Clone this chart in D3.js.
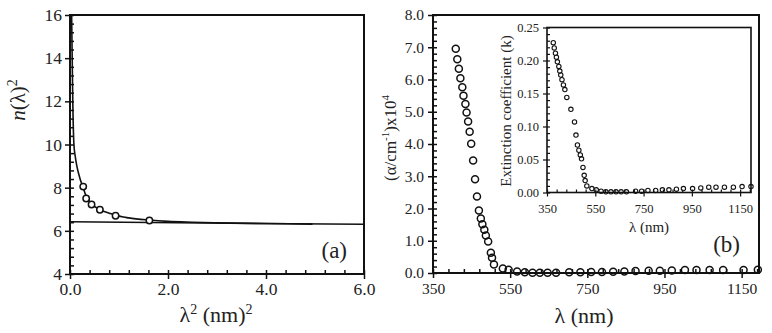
<!DOCTYPE html>
<html>
<head>
<meta charset="utf-8">
<script src="https://cdn.jsdelivr.net/npm/d3@7"></script>
<style>
  body { margin: 0; background: #fff; }
  svg { display: block; }
  text { font-family: 'Liberation Serif', serif; fill: #222; }
</style>
</head>
<body>
<svg id="chart" width="772" height="333"></svg>
<script>
// panel (a): n(lambda)^2 vs lambda^2
var pointsA_x = [0.27, 0.33, 0.44, 0.61, 0.93, 1.62]
var pointsA_y = [8.05, 7.5, 7.22, 6.98, 6.7, 6.48]
var fitA_x = [0.033, 0.045, 0.057, 0.08, 0.11, 0.14, 0.2, 0.26, 0.33, 0.44, 0.61, 0.8, 0.93, 1.2, 1.62, 2.0, 2.5, 3.0, 4.0, 4.95]
var fitA_y = [16, 14, 12, 10, 9.4, 9.0, 8.45, 8.05, 7.6, 7.25, 6.98, 6.82, 6.72, 6.6, 6.5, 6.44, 6.4, 6.37, 6.34, 6.31]
var lineA_x = [0, 6]
var lineA_y = [6.42, 6.3]
var ticksA_x = [0, 2, 4, 6]
var ticksA_y = [4, 6, 8, 10, 12, 14, 16]

// panel (b): absorption coefficient (x10^4 cm^-1) vs wavelength
var lambdaB = [409, 413, 417, 421, 426, 429, 434, 437, 441, 445, 449, 454, 459, 464, 469, 474, 478, 483, 487, 493,
               500, 503, 508, 531, 546, 568, 588, 608, 627, 647, 669, 703, 732, 760, 788, 817, 846, 875, 909, 938,
               969, 1003, 1033, 1067, 1102, 1155, 1192]
var alphaB = [6.95, 6.63, 6.33, 6.04, 5.76, 5.5, 5.24, 4.98, 4.7, 4.38, 4.01, 3.49, 2.91, 2.37, 1.94, 1.69, 1.51, 1.34, 1.16, 0.98,
              0.63, 0.47, 0.26, 0.14, 0.1, 0.05, 0.02, 0.01, 0.01, 0.01, 0.01, 0.02, 0.02, 0.03, 0.03, 0.04, 0.05, 0.06, 0.07, 0.07,
              0.08, 0.09, 0.09, 0.09, 0.09, 0.09, 0.1]
var ticksB_x = [350, 550, 750, 950, 1150]
var ticksB_y = [0, 1, 2, 3, 4, 5, 6, 7, 8]

// inset: extinction coefficient k vs wavelength
var lambdaK = [376, 380, 385, 389, 393, 399, 403, 407, 412, 418, 424, 432, 449, 464, 470, 476, 482, 488, 493, 499,
               504, 508, 515, 536, 554, 574, 594, 615, 636, 657, 679, 717, 742, 768, 800, 828, 855, 886, 915, 953,
               987, 1020, 1050, 1085, 1122, 1158, 1195]
var kValues = [0.227, 0.219, 0.211, 0.205, 0.198, 0.191, 0.184, 0.178, 0.171, 0.163, 0.156, 0.144, 0.126, 0.107, 0.087, 0.072, 0.064, 0.057, 0.051, 0.038,
               0.026, 0.018, 0.01, 0.006, 0.004, 0.002, 0.001, 0.001, 0.001, 0.001, 0.001, 0.002, 0.002, 0.003, 0.003, 0.004, 0.004, 0.005, 0.006, 0.006,
               0.007, 0.008, 0.008, 0.008, 0.008, 0.009, 0.009]
var ticksK_x = [350, 550, 750, 950, 1150]
var ticksK_y = [0, 0.05, 0.1, 0.15, 0.2, 0.25]

const svg = d3.select('#chart')

svg.append('rect').attr('width', 772).attr('height', 333).attr('fill', '#fff')

// helper: minor tick values between a and b with step s
function steps(a, b, s) {
  var out = []
  for (var i = 0; a + i * s <= b + 1e-9; i++) out.push(+(a + i * s).toFixed(6))
  return out
}

function drawAxes(g, x, y, opt) {
  var x0 = x.range()[0], x1 = x.range()[1], y0 = y.range()[0], y1 = y.range()[1]

  // minor ticks, inside
  g.append('g')
    .attr('transform', 'translate(0,' + y0 + ')')
    .call(d3.axisBottom(x).tickValues(opt.minorX).tickSize(-opt.minorLen).tickSizeOuter(0).tickFormat(''))
    .call(function(a) { a.select('.domain').remove() })
  g.append('g')
    .attr('transform', 'translate(' + x0 + ',0)')
    .call(d3.axisLeft(y).tickValues(opt.minorY).tickSize(-opt.minorLen).tickSizeOuter(0).tickFormat(''))
    .call(function(a) { a.select('.domain').remove() })

  // major ticks, outside with labels
  var xa = g.append('g')
    .attr('transform', 'translate(0,' + y0 + ')')
    .call(d3.axisBottom(x).tickValues(opt.majorX).tickSize(opt.majorLen).tickSizeOuter(0)
      .tickPadding(opt.padX).tickFormat(opt.fmtX))
  xa.select('.domain').remove()
  xa.selectAll('text').attr('font-size', opt.font).attr('font-family', 'Liberation Serif').attr('fill', '#222')

  var ya = g.append('g')
    .attr('transform', 'translate(' + x0 + ',0)')
    .call(d3.axisLeft(y).tickValues(opt.majorY).tickSize(opt.majorLen).tickSizeOuter(0)
      .tickPadding(opt.padY).tickFormat(opt.fmtY))
  ya.select('.domain').remove()
  ya.selectAll('text').attr('font-size', opt.font).attr('font-family', 'Liberation Serif').attr('fill', '#222')

  g.selectAll('.tick line').attr('stroke', '#111').attr('stroke-width', opt.tickW)

  // frame
  g.append('rect')
    .attr('x', x0).attr('y', y1)
    .attr('width', x1 - x0).attr('height', y0 - y1)
    .attr('fill', 'none').attr('stroke', '#111').attr('stroke-width', opt.frameW)
}

// ---------- panel (a) ----------
const xA = d3.scaleLinear().domain([0, 6]).range([70, 364])
const yA = d3.scaleLinear().domain([4, 16]).range([274, 15])

const gA = svg.append('g')

gA.append('defs').append('clipPath').attr('id', 'clipA')
  .append('rect').attr('x', 70).attr('y', 15).attr('width', 294).attr('height', 259)

var lineGen = d3.line()
  .x(function(d) { return xA(d[0]) })
  .y(function(d) { return yA(d[1]) })

gA.append('path')
  .datum(lineA_x.map(function(v, i) { return [v, lineA_y[i]] }))
  .attr('d', lineGen)
  .attr('fill', 'none').attr('stroke', '#111').attr('stroke-width', 1.5)

gA.append('path')
  .datum(fitA_x.map(function(v, i) { return [v, fitA_y[i]] }))
  .attr('d', lineGen.curve(d3.curveMonotoneX))
  .attr('clip-path', 'url(#clipA)')
  .attr('fill', 'none').attr('stroke', '#111').attr('stroke-width', 1.6)

drawAxes(gA, xA, yA, {
  minorX: steps(0, 6, 0.4), minorY: steps(4, 16, 0.4), majorX: ticksA_x, majorY: ticksA_y,
  minorLen: 4, majorLen: 5, padX: 4, padY: 3, font: 17.5, tickW: 1.5, frameW: 2,
  fmtX: d3.format('.1f'), fmtY: d3.format('d')
})

gA.selectAll('circle.pa')
  .data(pointsA_x)
  .enter().append('circle')
  .attr('class', 'pa')
  .attr('cx', function(d) { return xA(d) })
  .attr('cy', function(d, i) { return yA(pointsA_y[i]) })
  .attr('r', 3.2)
  .attr('fill', '#fff').attr('stroke', '#111').attr('stroke-width', 1.5)

gA.append('text')
  .attr('x', 347).attr('y', 258)
  .attr('text-anchor', 'end').attr('font-size', 23)
  .text('(a)')

var labAx = gA.append('text')
  .attr('x', 216).attr('y', 322)
  .attr('text-anchor', 'middle').attr('font-size', 22)
labAx.append('tspan').text('λ')
labAx.append('tspan').attr('dy', -8).attr('font-size', 14).text('2')
labAx.append('tspan').attr('dy', 8).text(' (nm)')
labAx.append('tspan').attr('dy', -8).attr('font-size', 14).text('2')

var labAy = gA.append('text')
  .attr('transform', 'translate(25,100) rotate(-90)')
  .attr('text-anchor', 'middle').attr('font-size', 21)
labAy.append('tspan').attr('font-style', 'italic').text('n')
labAy.append('tspan').text('(λ)')
labAy.append('tspan').attr('dy', -8).attr('font-size', 14).text('2')

// ---------- panel (b) ----------
const xB = d3.scaleLinear().domain([350, 1195]).range([433, 759])
const yB = d3.scaleLinear().domain([0, 8]).range([273, 15])

const gB = svg.append('g')

drawAxes(gB, xB, yB, {
  minorX: steps(350, 1195, 40), minorY: steps(0, 8, 0.2), majorX: ticksB_x, majorY: ticksB_y,
  minorLen: 4, majorLen: 5, padX: 5, padY: 4, font: 15.5, tickW: 1.5, frameW: 2,
  fmtX: d3.format('d'), fmtY: d3.format('.1f')
})

gB.selectAll('circle.pb')
  .data(lambdaB)
  .enter().append('circle')
  .attr('class', 'pb')
  .attr('cx', function(d) { return xB(d) })
  .attr('cy', function(d, i) { return yB(alphaB[i]) })
  .attr('r', 3.5)
  .attr('fill', 'none').attr('stroke', '#111').attr('stroke-width', 1.5)

gB.append('text')
  .attr('x', 740).attr('y', 252)
  .attr('text-anchor', 'end').attr('font-size', 23)
  .text('(b)')

gB.append('text')
  .attr('x', 584).attr('y', 323)
  .attr('text-anchor', 'middle').attr('font-size', 22)
  .text('λ (nm)')

var labBy = gB.append('text')
  .attr('transform', 'translate(396,138) rotate(-90)')
  .attr('text-anchor', 'middle').attr('font-size', 17)
labBy.append('tspan').text('(α/cm')
labBy.append('tspan').attr('dy', -7).attr('font-size', 11).text('-1')
labBy.append('tspan').attr('dy', 7).text(')x10')
labBy.append('tspan').attr('dy', -7).attr('font-size', 11).text('4')

// ---------- inset ----------
const xK = d3.scaleLinear().domain([350, 1195]).range([547, 751])
const yK = d3.scaleLinear().domain([0, 0.25]).range([192.5, 27.5])

const gK = svg.append('g')

gK.append('rect')
  .attr('x', 547).attr('y', 27.5).attr('width', 204).attr('height', 165)
  .attr('fill', '#fff')

drawAxes(gK, xK, yK, {
  minorX: steps(350, 1195, 40), minorY: steps(0, 0.25, 0.01), majorX: ticksK_x, majorY: ticksK_y,
  minorLen: 3, majorLen: 4, padX: 8, padY: 4, font: 12.5, tickW: 1.2, frameW: 1.6,
  fmtX: d3.format('d'), fmtY: d3.format('.2f')
})

gK.selectAll('circle.pk')
  .data(lambdaK)
  .enter().append('circle')
  .attr('class', 'pk')
  .attr('cx', function(d) { return xK(d) })
  .attr('cy', function(d, i) { return yK(kValues[i]) })
  .attr('r', 2.2)
  .attr('fill', 'none').attr('stroke', '#111').attr('stroke-width', 1.1)

gK.append('text')
  .attr('x', 649).attr('y', 232)
  .attr('text-anchor', 'middle').attr('font-size', 15)
  .text('λ (nm)')

gK.append('text')
  .attr('transform', 'translate(511,111) rotate(-90)')
  .attr('text-anchor', 'middle').attr('font-size', 15)
  .text('Extinction coefficient (k)')
</script>
</body>
</html>
